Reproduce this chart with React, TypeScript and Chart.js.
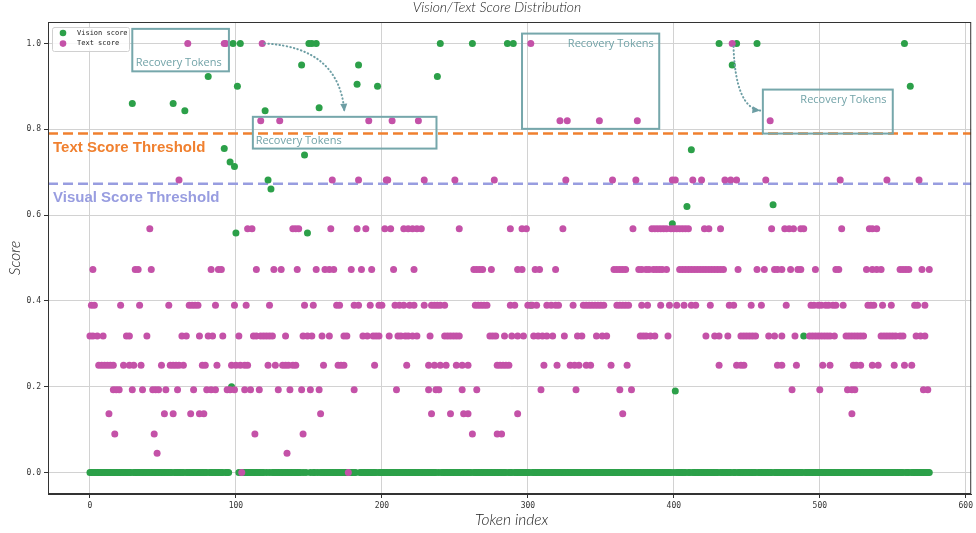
import React, { useEffect, useRef } from 'react';
import { Chart, registerables } from 'chart.js';

Chart.register(...registerables);

// ---------------- data ----------------
const TOKEN_COUNT = 576;
const xTickValues = [0, 100, 200, 300, 400, 500, 600];
const yTickValues = [0, 0.2, 0.4, 0.6, 0.8, 1.0];

// Vision score: non-zero tokens (all others are 0)
const visionIdx = [29, 57, 65, 81, 92, 96, 97, 98, 99, 100, 101, 103, 120, 122, 124, 145, 147, 149, 150, 152, 155, 157, 183, 184, 197, 238, 240, 262, 286, 290, 302, 399, 401, 409, 412, 431, 440, 443, 457, 468, 489, 558, 562];
const visionVal = [0.86, 0.86, 0.843, 0.923, 0.755, 0.724, 0.2, 1.0, 0.713, 0.558, 0.9, 1.0, 0.843, 0.682, 0.661, 0.95, 0.74, 0.558, 1.0, 1.0, 1.0, 0.85, 0.905, 0.95, 0.9, 0.923, 1.0, 1.0, 1.0, 1.0, 0.39, 0.58, 0.19, 0.62, 0.752, 1.0, 0.95, 1.0, 1.0, 0.624, 0.318, 1.0, 0.9];

// Text score: token indices at each discrete score level
const textLevels = [1.0, 0.82, 0.682, 0.568, 0.473, 0.39, 0.318, 0.25, 0.193, 0.137, 0.09, 0.045, 0];
const text100 = [67, 92, 93, 118, 302, 440];
const text082 = [117, 130, 191, 207, 225, 322, 327, 349, 375, 466];
const text068 = [61, 166, 184, 203, 204, 229, 250, 277, 326, 358, 374, 399, 401, 413, 419, 435, 439, 443, 463, 514, 546, 568];
const text057 = [41, 108, 111, 139, 141, 143, 165, 183, 189, 202, 206, 215, 218, 221, 224, 227, 253, 288, 296, 299, 324, 372, 385, 387, 389, 391, 393, 395, 398, 400, 402, 404, 406, 408, 410, 421, 424, 432, 467, 476, 479, 482, 487, 489, 515, 534, 536, 539];
const text047 = [2, 31, 33, 42, 83, 88, 90, 114, 126, 131, 142, 155, 161, 164, 167, 179, 186, 193, 208, 222, 263, 265, 267, 269, 275, 293, 296, 305, 308, 319, 359, 361, 363, 365, 367, 376, 378, 381, 383, 386, 388, 390, 392, 395, 404, 406, 408, 410, 412, 414, 416, 418, 420, 422, 424, 426, 428, 430, 432, 434, 444, 457, 462, 469, 471, 474, 480, 485, 487, 497, 511, 513, 532, 536, 539, 542, 555, 557, 559, 561, 570, 575];
const text039 = [1, 3, 21, 34, 54, 68, 70, 72, 74, 86, 99, 107, 123, 147, 153, 169, 171, 181, 184, 192, 198, 200, 209, 212, 215, 219, 222, 229, 234, 236, 238, 240, 243, 264, 266, 268, 270, 272, 288, 291, 300, 303, 306, 313, 316, 319, 321, 331, 338, 340, 342, 344, 346, 348, 350, 352, 361, 363, 365, 367, 369, 378, 382, 391, 397, 402, 407, 412, 415, 425, 438, 441, 453, 460, 477, 494, 496, 499, 501, 504, 506, 509, 511, 516, 533, 535, 537, 543, 549, 565, 567, 572];
const text032 = [0, 2, 5, 9, 25, 27, 39, 63, 66, 75, 81, 84, 91, 102, 112, 114, 117, 119, 121, 123, 125, 134, 146, 149, 152, 159, 164, 174, 176, 187, 190, 194, 196, 198, 205, 211, 213, 216, 218, 221, 224, 233, 243, 245, 247, 249, 251, 253, 274, 276, 278, 284, 289, 293, 297, 304, 307, 310, 313, 317, 325, 334, 337, 347, 351, 354, 377, 379, 381, 384, 387, 396, 422, 428, 431, 437, 446, 448, 450, 452, 454, 456, 465, 469, 474, 483, 493, 495, 497, 499, 501, 503, 505, 507, 510, 518, 520, 522, 524, 526, 528, 530, 542, 544, 546, 548, 550, 552, 555, 557, 566, 569, 572];
const text025 = [6, 8, 10, 12, 14, 16, 23, 27, 30, 35, 49, 55, 57, 59, 61, 64, 77, 79, 87, 97, 100, 103, 106, 108, 122, 127, 132, 134, 136, 139, 141, 160, 170, 172, 174, 195, 217, 232, 236, 240, 244, 251, 255, 259, 279, 281, 283, 285, 287, 311, 320, 329, 332, 335, 340, 343, 357, 368, 431, 443, 446, 448, 471, 474, 484, 502, 507, 523, 525, 528, 536, 540, 551, 558, 563];
const text019 = [16, 18, 20, 29, 36, 43, 45, 47, 52, 60, 71, 80, 83, 86, 94, 96, 99, 106, 110, 116, 129, 137, 145, 151, 157, 181, 210, 232, 237, 239, 255, 265, 309, 333, 363, 371, 481, 500, 519, 522, 524, 571, 574];
const text014 = [13, 51, 57, 69, 75, 78, 158, 234, 247, 256, 259, 293, 365, 522];
const text009 = [17, 44, 113, 146, 262, 279, 282];
const text0045 = [46, 135];
const text000 = [104, 177];
const textGroups = [text100, text082, text068, text057, text047, text039, text032, text025, text019, text014, text009, text0045, text000];

const textThreshold = 0.79;
const visualThreshold = 0.673;

// annotation geometry (data coordinates)
const recoveryBoxes = [
  { x0: 29, x1: 95.2, y0: 0.935, y1: 1.034, tx: 60.8, ty: 0.954, align: 'center' },
  { x0: 111.6, x1: 237.4, y0: 0.755, y1: 0.829, tx: 113.5, ty: 0.773, align: 'left' },
  { x0: 296, x1: 390, y0: 0.801, y1: 1.023, tx: 327.4, ty: 0.998, align: 'left' },
  { x0: 461, x1: 550, y0: 0.79, y1: 0.8925, tx: 486.7, ty: 0.8675, align: 'left' },
];
const recoveryArrows = [
  { p0: [119.6, 1.0], c: [170.9, 0.9907], p2: [174.3, 0.841] },
  { p0: [440.9, 0.993], c: [442.2, 0.8505], p2: [459.3, 0.8435] },
];

const GREEN = '#2ca049';
const MAGENTA = '#c452a8';
const ORANGE = '#f0802f';
const PURPLE = '#989de0';
const TEAL = '#76a7ab';

// ---------------- build datasets ----------------
const visionMap = new Map<number, number>();
visionIdx.forEach((i, k) => visionMap.set(i, visionVal[k]));
const visionPoints = Array.from({ length: TOKEN_COUNT }, (_, i) => ({ x: i, y: visionMap.get(i) ?? 0 }));
const textPoints: { x: number; y: number }[] = [];
textGroups.forEach((g, k) => g.forEach((i) => textPoints.push({ x: i, y: textLevels[k] })));

const overlayPlugin = {
  id: 'overlay',
  beforeDatasetsDraw(chart: any) {
    const { ctx, chartArea: a, scales } = chart;
    const y = scales.y;
    ctx.save();
    ctx.beginPath();
    ctx.rect(a.left, a.top, a.width, a.height);
    ctx.clip();
    ctx.lineWidth = 2.5;
    ctx.setLineDash([10, 5]);
    [[textThreshold, ORANGE], [visualThreshold, PURPLE]].forEach(([v, col]: any) => {
      const py = y.getPixelForValue(v);
      ctx.strokeStyle = col;
      ctx.beginPath();
      ctx.moveTo(a.left, py);
      ctx.lineTo(a.right, py);
      ctx.stroke();
    });
    ctx.restore();
  },
  afterDatasetsDraw(chart: any) {
    const { ctx, chartArea: a, scales } = chart;
    const X = (v: number) => scales.x.getPixelForValue(v);
    const Y = (v: number) => scales.y.getPixelForValue(v);
    ctx.save();
    // threshold labels
    ctx.font = 'bold 15px "Liberation Sans", Arial, sans-serif';
    ctx.textBaseline = 'middle';
    ctx.textAlign = 'left';
    ctx.fillStyle = ORANGE;
    ctx.fillText('Text Score Threshold', X(-25.3), Y(0.757));
    ctx.fillStyle = PURPLE;
    ctx.fillText('Visual Score Threshold', X(-25.3), Y(0.64));

    // recovery boxes
    ctx.lineWidth = 2;
    ctx.strokeStyle = TEAL;
    ctx.font = '11px "Open Sans", "Liberation Sans", sans-serif';
    ctx.fillStyle = '#72a3a8';
    recoveryBoxes.forEach((b) => {
      const l = X(b.x0), r = X(b.x1), t = Y(b.y1), bt = Y(b.y0);
      ctx.strokeRect(l, t, r - l, bt - t);
      ctx.textAlign = b.align as CanvasTextAlign;
      ctx.fillText('Recovery Tokens', X(b.tx), Y(b.ty));
    });

    // dotted curved arrows
    recoveryArrows.forEach((ar) => {
      const p0 = [X(ar.p0[0]), Y(ar.p0[1])];
      const c = [X(ar.c[0]), Y(ar.c[1])];
      const p2 = [X(ar.p2[0]), Y(ar.p2[1])];
      ctx.strokeStyle = '#6d9ea4';
      ctx.lineWidth = 2;
      ctx.lineCap = 'round';
      ctx.setLineDash([0.5, 3.2]);
      ctx.beginPath();
      ctx.moveTo(p0[0], p0[1]);
      ctx.quadraticCurveTo(c[0], c[1], p2[0], p2[1]);
      ctx.stroke();
      ctx.setLineDash([]);
      const ang = Math.atan2(p2[1] - c[1], p2[0] - c[0]);
      const L = 8, W = 3.5;
      ctx.fillStyle = '#6d9ea4';
      ctx.beginPath();
      ctx.moveTo(p2[0], p2[1]);
      ctx.lineTo(p2[0] - L * Math.cos(ang) + W * Math.sin(ang), p2[1] - L * Math.sin(ang) - W * Math.cos(ang));
      ctx.lineTo(p2[0] - L * Math.cos(ang) - W * Math.sin(ang), p2[1] - L * Math.sin(ang) + W * Math.cos(ang));
      ctx.closePath();
      ctx.fill();
    });

    // legend (inside top-left)
    const lx = a.left + 4, ly = a.top + 5, lw = 77, lh = 24;
    ctx.fillStyle = 'rgba(255,255,255,0.85)';
    ctx.strokeStyle = '#d0d0d0';
    ctx.lineWidth = 1;
    ctx.beginPath();
    ctx.roundRect(lx + 0.5, ly + 0.5, lw, lh, 2);
    ctx.fill();
    ctx.stroke();
    ctx.font = '7px "DejaVu Sans Mono", monospace';
    ctx.textAlign = 'left';
    ctx.textBaseline = 'middle';
    [['Vision score', GREEN], ['Text score', MAGENTA]].forEach(([lab, col], k) => {
      const cy = ly + 6 + k * 10.6;
      ctx.fillStyle = col;
      ctx.beginPath();
      ctx.arc(lx + 11, cy, 3.3, 0, Math.PI * 2);
      ctx.fill();
      ctx.fillStyle = '#222';
      ctx.fillText(lab, lx + 25, cy);
    });
    ctx.restore();
  },
  afterDraw(chart: any) {
    const { ctx, chartArea: a } = chart;
    ctx.save();
    ctx.strokeStyle = '#333';
    ctx.lineWidth = 1;
    ctx.strokeRect(a.left + 0.5, a.top + 0.5, a.width - 1, a.height - 1);
    ctx.fillStyle = '#222';
    ctx.textAlign = 'center';
    ctx.textBaseline = 'middle';
    ctx.font = 'italic 300 14px Lato, "Open Sans", sans-serif';
    ctx.fillText('Vision/Text Score Distribution', 497, 7);
    ctx.font = 'italic 300 15.5px Lato, "Open Sans", sans-serif';
    ctx.fillText('Token index', (a.left + a.right) / 2 + 2, 520);
    ctx.translate(15, (a.top + a.bottom) / 2);
    ctx.rotate(-Math.PI / 2);
    ctx.fillText('Score', 0, 0);
    ctx.restore();
  },
};

export default function App() {
  const ref = useRef<HTMLCanvasElement>(null);
  useEffect(() => {
    document.body.style.margin = '0';
    const canvas = ref.current!;
    const tickFont = { family: '"DejaVu Sans Mono", monospace', size: 8 };
    const chart = new Chart(canvas, {
      type: 'scatter',
      data: {
        datasets: [
          {
            label: 'Text score',
            data: textPoints,
            backgroundColor: MAGENTA,
            borderWidth: 0,
            pointRadius: 3.5,
          },
          {
            label: 'Vision score',
            data: visionPoints,
            backgroundColor: GREEN,
            borderWidth: 0,
            pointRadius: 3.5,
          },
        ],
      },
      options: {
        responsive: false,
        animation: false,
        layout: { padding: { top: 22, right: 3, left: 0, bottom: 0 } },
        plugins: { legend: { display: false }, tooltip: { enabled: false }, title: { display: false } },
        scales: {
          x: {
            type: 'linear',
            min: -28.75,
            max: 603.75,
            afterFit: (s: any) => { s.height = 39; },
            ticks: {
              stepSize: 100,
              includeBounds: false,
              font: tickFont,
              color: '#333',
              padding: 3,
              maxRotation: 0,
              callback: (v: any) => (xTickValues.includes(Number(v)) ? String(v) : ''),
            },
            grid: { color: '#d2d2d2', lineWidth: 1, tickLength: 4, tickColor: '#333' },
            border: { display: true, color: '#333' },
          },
          y: {
            type: 'linear',
            min: -0.05,
            max: 1.05,
            afterFit: (s: any) => { s.width = 48; },
            ticks: {
              stepSize: 0.2,
              includeBounds: false,
              font: tickFont,
              color: '#333',
              padding: 3,
              callback: (v: any) => {
                const n = Number(v);
                return yTickValues.some((t) => Math.abs(t - n) < 1e-6) ? n.toFixed(1) : '';
              },
            },
            grid: { color: '#d2d2d2', lineWidth: 1, tickLength: 4, tickColor: '#333' },
            border: { display: true, color: '#333' },
          },
        },
      },
      plugins: [overlayPlugin],
    });
    return () => chart.destroy();
  }, []);
  return <canvas ref={ref} width={976} height={533} style={{ display: 'block', width: 976, height: 533 }} />;
}
